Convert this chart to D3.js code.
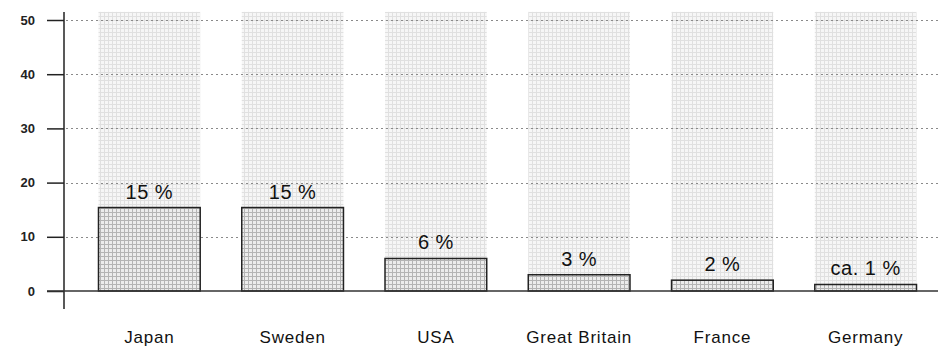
<!DOCTYPE html>
<html><head><meta charset="utf-8">
<script src="https://cdn.jsdelivr.net/npm/d3@7"></script>
<style>body{margin:0;background:#fff}svg{display:block}</style>
</head><body><svg id="c" width="938" height="349"></svg>
<script>
const categories = ["Japan","Sweden","USA","Great Britain","France","Germany"];
const values = [15.4, 15.4, 6, 3, 2, 1.2];
const valueLabels = ["15 %","15 %","6 %","3 %","2 %","ca. 1 %"];
const yTicks = [0,10,20,30,40,50];
const yMax = 51.5;

const svg = d3.select("#c");
const font = "Liberation Sans, Arial, sans-serif";
const defs = svg.append("defs");
function grid(id, bg, line, step){
  const p = defs.append("pattern").attr("id",id).attr("patternUnits","userSpaceOnUse")
    .attr("width",step).attr("height",step);
  p.append("rect").attr("width",step).attr("height",step).attr("fill",bg);
  p.append("line").attr("x1",0).attr("y1",0.5).attr("x2",step).attr("y2",0.5).attr("stroke",line).attr("stroke-width",1);
  p.append("line").attr("x1",0.5).attr("y1",0).attr("x2",0.5).attr("y2",step).attr("stroke",line).attr("stroke-width",1);
}
grid("bgp","#f6f6f6","#e0e0e0",4);
grid("barp","#ececec","#b4b4b4",4);

const x = d3.scaleBand().domain(categories).range([77,938]).paddingInner(0.29).paddingOuter(0.15);
const y = d3.scaleLinear().domain([0,50]).range([291,20]);

// background columns
svg.selectAll("rect.bg").data(categories).enter().append("rect")
  .attr("x",d=>x(d)).attr("width",x.bandwidth())
  .attr("y",y(yMax)).attr("height",y(0)-y(yMax))
  .attr("fill","url(#bgp)");

// dotted gridlines
svg.selectAll("line.g").data(yTicks.filter(t=>t>0)).enter().append("line")
  .attr("x1",66).attr("x2",938).attr("y1",d=>Math.round(y(d))+0.5).attr("y2",d=>Math.round(y(d))+0.5)
  .attr("stroke","#8a8a8a").attr("stroke-width",1).attr("stroke-dasharray","2,3");

// bars
svg.selectAll("rect.bar").data(values).enter().append("rect")
  .attr("x",(d,i)=>x(categories[i])).attr("width",x.bandwidth())
  .attr("y",d=>y(d)).attr("height",d=>y(0)-y(d))
  .attr("fill","url(#barp)").attr("stroke","#222").attr("stroke-width",1.5);

// value labels
svg.selectAll("text.v").data(values).enter().append("text")
  .attr("x",(d,i)=>x(categories[i])+x.bandwidth()/2).attr("y",d=>y(d)-9)
  .attr("text-anchor","middle").attr("font-family",font).attr("font-size",20)
  .attr("letter-spacing",0.5).attr("fill","#111")
  .text((d,i)=>valueLabels[i]);

// y axis
const axis = d3.axisLeft(y).tickValues(yTicks).tickSize(17).tickPadding(12);
const ga = svg.append("g").attr("transform","translate(64,0)").call(axis);
ga.select(".domain").remove();
ga.selectAll(".tick line").attr("stroke","#222").attr("stroke-width",1.5);
ga.selectAll(".tick text").attr("font-family",font).attr("font-size",13).attr("font-weight","bold").attr("fill","#222");
svg.append("line").attr("x1",64).attr("x2",64).attr("y1",12).attr("y2",309).attr("stroke","#222").attr("stroke-width",1.5);
// baseline
svg.append("line").attr("x1",47).attr("x2",938).attr("y1",y(0)).attr("y2",y(0)).attr("stroke","#333").attr("stroke-width",1.5);

// category labels
const xa = d3.axisBottom(x).tickSize(0).tickPadding(0);
const gx = svg.append("g").attr("transform","translate(0,337)").call(xa);
gx.select(".domain").remove();
gx.selectAll(".tick text").attr("font-family",font).attr("font-size",17).attr("letter-spacing",0.8)
  .attr("fill","#111").attr("dy","0.35em");
</script></body></html>
